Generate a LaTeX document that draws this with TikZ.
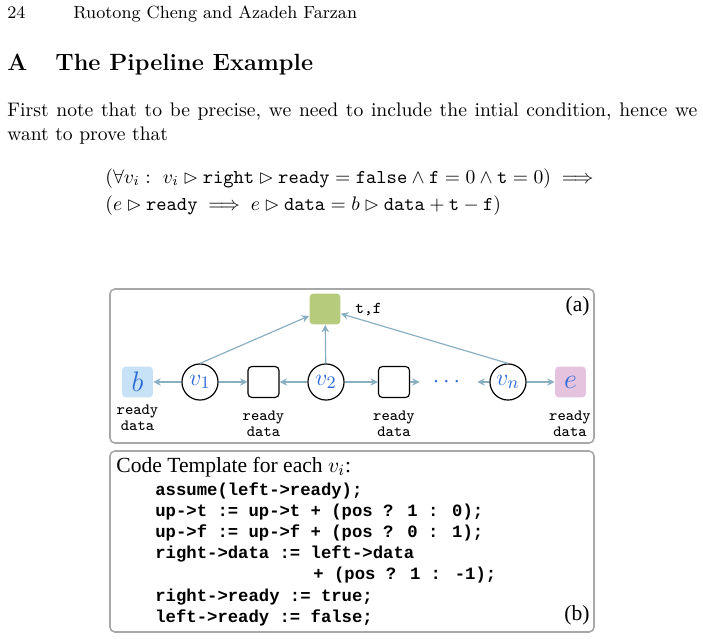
\documentclass[tikz,border=0pt]{standalone}
\usepackage{amsmath}
\usepackage{amssymb}
\usepackage{fontspec}
\newfontfamily\figserif{Liberation Serif}
\newfontfamily\figmono{Liberation Mono}
\usetikzlibrary{positioning,arrows.meta,calc}
\definecolor{PipeGreen}{HTML}{B6CB7C}
\definecolor{PipeBlue}{HTML}{C7E1F6}
\definecolor{PipePink}{HTML}{E5C3DF}
\definecolor{PipeArrow}{HTML}{89AFC3}
\definecolor{PipeText}{HTML}{2C6AD8}
\definecolor{PipeFrame}{HTML}{A8A8A8}

\begin{document}
\begin{tikzpicture}[
  x=0.51pt, y=-0.51pt,
  txt/.style    = {anchor=base west, inner sep=0pt},
  frame/.style  = {draw=PipeFrame, line width=0.8pt, rounded corners=2.5pt},
  wire/.style   = {draw=PipeArrow, line width=0.6pt, -{Stealth[length=3.8pt,width=3.8pt]}},
  proc/.style   = {circle, draw, line width=0.6pt, minimum size=18.4pt, inner sep=0pt,
                   text=PipeText, font=\fontsize{13}{13}\selectfont},
  chan/.style   = {rectangle, rounded corners=2pt, minimum size=15.8pt, inner sep=0pt,
                   text=PipeText, font=\fontsize{13.5}{13.5}\selectfont},
  buf/.style    = {chan, draw, line width=0.6pt},
  lbl/.style    = {anchor=base, inner sep=0pt, font=\ttfamily\fontsize{8}{8}\selectfont},
  code/.style   = {txt, font=\figmono\bfseries\fontsize{8.8}{8.8}\selectfont},
  tag/.style    = {anchor=base east, inner sep=0pt, font=\figserif\fontsize{11}{11}\selectfont}
]
\fill[white] (0,0) rectangle (703,639);
\useasboundingbox (0,0) rectangle (703,639);

% Page text
\node[txt, font=\small] (pnum) at (7,18.5) {24};
\node[txt, font=\small] (rhead) at (73,18.5) {Ruotong Cheng and Azadeh Farzan};
\node[txt, font=\large\bfseries] (secnum) at (7,70) {A};
\node[txt, font=\large\bfseries] (sectitle) at (55,70) {The Pipeline Example};
\node[txt] (para) at (7,116.7) {\parbox[t]{351.9pt}{First note that to be precise, we need to
  include the intial condition, hence we want to prove that}};
\node[txt] (claim1) at (105,183) {$(\forall v_i:\ v_i \rhd \texttt{right} \rhd
  \texttt{ready} = \texttt{false} \wedge \texttt{f} = 0 \wedge \texttt{t} = 0) \implies$};
\node[txt] (claim2) at (105,210) {$(e \rhd \texttt{ready} \implies e \rhd
  \texttt{data} = b \rhd \texttt{data} + \texttt{t} - \texttt{f})$};

% Frames
\draw[frame] (110,289) rectangle (594,443);
\draw[frame] (110,451) rectangle (594,632);

% (a) pipeline
\node[chan, fill=PipeGreen] (up) at (325,309) {};
\node[txt, font=\ttfamily\fontsize{8.5}{8.5}\selectfont] (tf) at (355,313) {t,f};
\node[chan, fill=PipeBlue] (b) at (137.5,382) {$b$};
\node[proc] (v1) at (200,382) {$v_1$};
\node[buf] (c1) at (263.5,382) {};
\node[proc] (v2) at (326,382) {$v_2$};
\node[buf] (c2) at (394,382) {};
\node[text=PipeText, inner ysep=1pt, inner xsep=6.5pt, font=\fontsize{12}{12}\selectfont] (dots) at (448.5,382) {$\cdots$};
\node[proc] (vn) at (508,382) {$v_n$};
\node[chan, fill=PipePink] (e) at (570.5,382) {$e$};

\draw[wire] (v1) -- (b);
\draw[wire] (v1) -- (c1);
\draw[wire] (v2) -- (c1);
\draw[wire] (v2) -- (c2);
\draw[wire] (c2) -- (dots);
\draw[wire] (vn) -- (dots);
\draw[wire] (vn) -- (e);
\draw[wire] (v1.north) -- (up);
\draw[wire] (v2) -- (up);
\draw[wire] (vn.north) -- (up);

\foreach \xx/\yy/\nm in {137.5/414/b, 263.5/420.5/c1, 394/420.5/c2, 570/420.5/e} {
  \node[lbl] (ready-\nm) at (\xx,\yy) {ready};
  \node[lbl] (data-\nm) at (\xx,\yy+16.3) {data};
}
\node[tag] (taga) at (590,311) {(a)};

% (b) code template
\node[txt, font=\figserif\fontsize{11}{11}\selectfont] (tmpl) at (116,472) {Code Template for each $v_i$:};
\foreach \k/\ln in {0/{assume(left->ready);},
                    1/{up->t := up->t + (pos ? 1 : 0);},
                    2/{up->f := up->f + (pos ? 0 : 1);},
                    3/{right->data := left->data},
                    5/{right->ready := true;},
                    6/{left->ready := false;}}
  \node[code] (line\k) at (155,495+\k*21.2) {\ln};
\node[code] (line4) at (313,495+4*21.2) {+ (pos ? 1 : -1);};
\node[tag] (tagb) at (590,620) {(b)};
\end{tikzpicture}
\end{document}
